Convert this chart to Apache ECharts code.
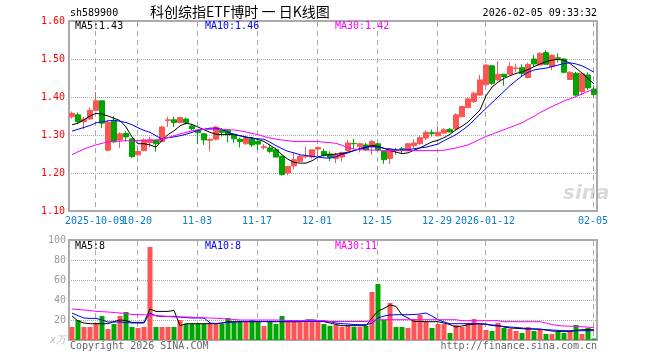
<!DOCTYPE html>
<html>
<head>
<meta charset="utf-8">
<script src="https://cdn.jsdelivr.net/npm/echarts@6/dist/echarts.min.js"></script>
<style>html,body{margin:0;padding:0;background:#fff}#c{width:660px;height:360px}</style>
</head>
<body>
<div id="c"></div>
<script>
const dates = [
 '2025-09-25','2025-09-26','2025-09-29','2025-09-30',
 '2025-10-09','2025-10-10','2025-10-13','2025-10-14','2025-10-15','2025-10-16','2025-10-17',
 '2025-10-20','2025-10-21','2025-10-22','2025-10-23','2025-10-24',
 '2025-10-27','2025-10-28','2025-10-29','2025-10-30','2025-10-31',
 '2025-11-03','2025-11-04','2025-11-05','2025-11-06','2025-11-07',
 '2025-11-10','2025-11-11','2025-11-12','2025-11-13','2025-11-14',
 '2025-11-17','2025-11-18','2025-11-19','2025-11-20','2025-11-21',
 '2025-11-24','2025-11-25','2025-11-26','2025-11-27','2025-11-28',
 '2025-12-01','2025-12-02','2025-12-03','2025-12-04','2025-12-05',
 '2025-12-08','2025-12-09','2025-12-10','2025-12-11','2025-12-12',
 '2025-12-15','2025-12-16','2025-12-17','2025-12-18','2025-12-19',
 '2025-12-22','2025-12-23','2025-12-24','2025-12-25','2025-12-26',
 '2025-12-29','2025-12-30','2025-12-31',
 '2026-01-05','2026-01-06','2026-01-07','2026-01-08','2026-01-09',
 '2026-01-12','2026-01-13','2026-01-14','2026-01-15','2026-01-16',
 '2026-01-19','2026-01-20','2026-01-21','2026-01-22','2026-01-23',
 '2026-01-26','2026-01-27','2026-01-28','2026-01-29','2026-01-30',
 '2026-02-02','2026-02-03','2026-02-04','2026-02-05'
];
const openP = [
 1.348,1.353,1.335,1.342,1.365,1.390,1.260,1.337,1.287,1.304,
 1.290,1.248,1.259,1.280,1.286,1.283,1.338,1.340,1.333,1.342,
 1.324,1.312,1.303,1.286,1.289,1.314,1.312,1.302,1.289,1.277,
 1.290,1.283,1.267,1.266,1.261,1.244,1.200,1.219,1.231,1.243,
 1.242,1.263,1.257,1.250,1.238,1.242,1.259,1.278,1.270,1.274,
 1.268,1.277,1.257,1.238,1.260,1.264,1.259,1.272,1.277,1.292,
 1.306,1.298,1.305,1.315,1.316,1.348,1.372,1.388,1.405,1.432,
 1.482,1.445,1.460,1.460,1.475,1.477,1.451,1.500,1.484,1.517,
 1.480,1.503,1.500,1.446,1.462,1.414,1.458,1.421
];
const closeP = [
 1.357,1.335,1.342,1.365,1.390,1.331,1.333,1.282,1.303,1.295,
 1.243,1.257,1.287,1.287,1.277,1.321,1.340,1.333,1.346,1.332,
 1.316,1.306,1.287,1.288,1.321,1.307,1.301,1.290,1.283,1.293,
 1.274,1.276,1.269,1.257,1.242,1.196,1.217,1.235,1.244,1.244,
 1.261,1.267,1.247,1.241,1.248,1.254,1.279,1.277,1.277,1.261,
 1.283,1.261,1.235,1.263,1.259,1.263,1.277,1.279,1.293,1.307,
 1.304,1.307,1.314,1.308,1.353,1.375,1.395,1.410,1.445,1.484,
 1.436,1.460,1.454,1.480,1.476,1.462,1.486,1.487,1.515,1.486,
 1.510,1.502,1.465,1.465,1.405,1.462,1.424,1.407
];
const lowP = [
 1.343,1.328,1.315,1.340,1.362,1.318,1.257,1.279,1.266,1.283,
 1.240,1.245,1.257,1.268,1.256,1.280,1.321,1.321,1.331,1.327,
 1.312,1.276,1.274,1.257,1.286,1.296,1.281,1.279,1.267,1.274,
 1.269,1.261,1.261,1.253,1.240,1.193,1.194,1.209,1.228,1.238,
 1.238,1.244,1.243,1.231,1.226,1.231,1.257,1.263,1.254,1.259,
 1.248,1.257,1.224,1.224,1.248,1.251,1.257,1.266,1.274,1.287,
 1.296,1.296,1.303,1.307,1.312,1.346,1.371,1.384,1.404,1.427,
 1.432,1.442,1.430,1.459,1.466,1.453,1.449,1.480,1.484,1.484,
 1.471,1.491,1.462,1.445,1.401,1.405,1.418,1.401
];
const highP = [
 1.362,1.359,1.348,1.372,1.413,1.390,1.340,1.350,1.307,1.310,
 1.291,1.273,1.291,1.295,1.287,1.324,1.348,1.348,1.347,1.346,
 1.329,1.314,1.305,1.293,1.324,1.318,1.315,1.305,1.293,1.296,
 1.293,1.292,1.276,1.274,1.266,1.246,1.219,1.253,1.248,1.270,
 1.262,1.270,1.264,1.257,1.253,1.256,1.287,1.290,1.280,1.279,
 1.287,1.278,1.257,1.266,1.266,1.268,1.279,1.289,1.298,1.312,
 1.314,1.322,1.318,1.318,1.357,1.377,1.397,1.414,1.458,1.486,
 1.484,1.494,1.461,1.491,1.488,1.486,1.490,1.510,1.517,1.523,
 1.512,1.515,1.502,1.468,1.466,1.466,1.465,1.427
];
const ma5 = [
 1.327,1.331,1.340,1.350,1.357,1.355,1.350,1.344,1.338,1.321,
 1.295,1.277,1.277,1.274,1.268,1.286,1.301,1.311,1.324,1.331,
 1.328,1.321,1.314,1.307,1.302,1.301,1.301,1.301,1.298,1.294,
 1.293,1.288,1.283,1.273,1.263,1.248,1.236,1.228,1.226,1.226,
 1.232,1.242,1.247,1.248,1.250,1.251,1.255,1.259,1.263,1.267,
 1.273,1.270,1.265,1.259,1.255,1.251,1.253,1.260,1.266,1.274,
 1.282,1.286,1.293,1.302,1.314,1.323,1.334,1.350,1.366,1.403,
 1.426,1.439,1.449,1.456,1.462,1.466,1.472,1.480,1.487,1.493,
 1.497,1.499,1.497,1.488,1.476,1.463,1.449,1.434
];
const ma10 = [
 1.310,1.315,1.320,1.325,1.332,1.335,1.337,1.339,1.336,1.333,
 1.327,1.319,1.312,1.307,1.298,1.289,1.293,1.295,1.298,1.302,
 1.307,1.312,1.315,1.318,1.318,1.315,1.307,1.302,1.298,1.295,
 1.291,1.290,1.289,1.281,1.272,1.264,1.257,1.253,1.248,1.246,
 1.244,1.242,1.240,1.239,1.243,1.249,1.253,1.259,1.265,1.269,
 1.270,1.268,1.265,1.263,1.261,1.261,1.261,1.264,1.266,1.268,
 1.272,1.276,1.285,1.293,1.301,1.312,1.324,1.339,1.355,1.370,
 1.385,1.400,1.415,1.430,1.443,1.455,1.465,1.471,1.474,1.476,
 1.480,1.484,1.488,1.490,1.487,1.482,1.474,1.465
];
const ma30 = [
 1.248,1.256,1.263,1.269,1.274,1.278,1.282,1.283,1.284,1.285,
 1.285,1.285,1.286,1.287,1.287,1.289,1.293,1.298,1.303,1.307,
 1.311,1.314,1.315,1.315,1.315,1.315,1.314,1.313,1.311,1.308,
 1.304,1.301,1.296,1.292,1.289,1.287,1.285,1.283,1.283,1.283,
 1.283,1.283,1.281,1.280,1.278,1.273,1.266,1.263,1.261,1.261,
 1.260,1.260,1.259,1.259,1.259,1.259,1.259,1.259,1.259,1.259,
 1.259,1.259,1.260,1.263,1.266,1.270,1.274,1.281,1.289,1.296,
 1.302,1.308,1.314,1.320,1.326,1.332,1.341,1.349,1.359,1.367,
 1.375,1.382,1.390,1.395,1.401,1.408,1.415,1.420
];
const volume = [
 13,20,13,13,17,24,11,16,24,28,
 13,12,13,93,13,13,13,13,20,16,
 16,16,16,17,17,16,22,18,18,18,
 20,18,14,18,16,24,18,18,18,20,
 20,18,16,14,15,13,14,13,13,14,
 48,56,20,37,13,13,12,21,25,18,
 12,16,16,7,15,13,17,21,16,10,
 9,17,12,11,9,7,13,9,10,6,
 6,8,7,9,15,6,12,1.5
];
const volMa5 = [
 24,19,17,16.3,16.3,16.3,16.3,18.5,20,19.5,
 17.6,17.6,17.6,31,28.6,28.6,28.6,29.6,14.3,16.3,
 16.3,16.3,16.3,16.3,16.3,17,18.3,18.3,18.3,18.3,
 18.3,18.3,18.3,18.3,18.3,18.3,18.3,18.3,18.3,20,
 20,19.6,18.3,17,15.5,14.3,14.3,14.3,14.3,14.3,
 22,29,31.5,35,33.6,25,22,18.6,18.5,18.3,
 18.3,18.3,17,15.3,13,14,15.3,15.8,16.3,15.5,
 15,14.6,13,12,11.7,11.3,11,11,11,10,
 9,8.6,8.6,8.6,9.5,10.3,10.3,10.3
];
const volMa10 = [
 27,24.3,22,21.6,21.6,20,18,18,18,17.5,
 17,17,17,27,24,23.6,23.6,23.6,23,22.5,
 22,22,22,17,16.5,17,17.5,18,18.5,18.5,
 18.5,18.5,18.5,18.5,18.5,18.5,18.5,18.5,18.5,18.5,
 18.5,18.5,18.5,18.3,17,16.3,16,15.5,15.3,15.3,
 16.9,22,24,25,25.3,25.3,25.3,25.5,26,27,
 24,20.3,18,16.3,16.3,16.3,16.3,16.3,16.3,16,
 14.5,14,13.5,13,12.5,12,11.3,11,10.5,10.3,
 10,9.6,9.3,9.3,9.3,9.3,9.3,9.3
];
const volMa30 = [
 31,30.5,30,29.5,28.6,28.3,28,27.5,27,26.5,
 25.5,25.3,25.3,25,24.5,24,23.5,23,23,23,
 22.8,22.5,22.2,22,21.8,21.3,21,20.5,20,20,
 20,20,20,20,20,20,19.5,19.5,19.5,19.5,
 19.5,19.5,19.5,18.5,18.5,18.5,18.5,18.5,18.5,18.5,
 19.5,20.3,20.3,20.3,20.3,20.3,20.3,20.3,20.3,20.3,
 20.3,20.3,20.3,20.3,20.3,19.3,19.3,19.3,19.3,19.3,
 19.3,19.3,18.3,18.3,18.3,18.3,18.3,18.3,18.3,17,
 15.5,14.5,14,13.8,13.6,13.3,12.8,12.3
];
const tickDates = ['2025-10-09','2025-10-20','2025-11-03','2025-11-17','2025-12-01','2025-12-15','2025-12-29','2026-01-12','2026-02-05'];
const tickLabels = ['2025-10-09','10-20','11-03','11-17','12-01','12-15','12-29','2026-01-12','02-05'];
const priceMin = 1.10, priceMax = 1.60, priceStep = 0.10;
const volMin = 0, volMax = 100, volStep = 20;
const legendPrice = ['MA5:1.43','MA10:1.46','MA30:1.42'];
const legendVol = ['MA5:8','MA10:8','MA30:11'];

const UP = '#ff5454', DOWN = '#00a600';
const MONO = '"DejaVu Sans Mono", monospace';
const GRIDC = '#aaaaaa';
const VLINEC = '#a8a8a8';

const chart = echarts.init(document.getElementById('c'), null, {renderer: 'canvas'});
const candleData = dates.map((d, i) => [openP[i], closeP[i], lowP[i], highP[i]]);
const tickIdx = tickDates.map(d => dates.indexOf(d));

const lineS = (name, data, color, xi, yi) => ({
  name, type: 'line', data, xAxisIndex: xi, yAxisIndex: yi,
  symbol: 'none', smooth: false, silent: true,
  lineStyle: {color, width: 1}, z: 5
});
const txt = (text, x, y, fill, align, font) => ({
  type: 'text', x, y, z: 100,
  style: {text, fill, align: align || 'left', verticalAlign: 'middle', font: font || ('10px ' + MONO)}
});

const GRIDS = [
  {left: 69, top: 21, width: 528, height: 190},
  {left: 69, top: 240, width: 528, height: 100}
];

chart.setOption({
  animation: false,
  backgroundColor: '#ffffff',
  grid: GRIDS.map(g => Object.assign({show: true, borderColor: GRIDC, borderWidth: 2, outerBoundsMode: 'none', containLabel: false}, g)),
  xAxis: [
    {type: 'category', data: dates, gridIndex: 0, boundaryGap: true,
     axisLine: {show: false}, axisTick: {show: false}, splitLine: {show: false}, axisLabel: {show: false}},
    {type: 'category', data: dates, gridIndex: 1, boundaryGap: true,
     axisLine: {show: false}, axisTick: {show: false}, splitLine: {show: false}, axisLabel: {show: false}}
  ],
  yAxis: [
    {type: 'value', gridIndex: 0, min: priceMin, max: priceMax, interval: priceStep,
     axisLine: {show: false}, axisTick: {show: false},
     axisLabel: {color: '#ff0000', fontSize: 10, fontFamily: MONO, margin: 4, formatter: v => v.toFixed(2)},
     splitLine: {show: true, lineStyle: {type: 'dotted', color: GRIDC, width: 1}}},
    {type: 'value', gridIndex: 1, min: volMin, max: volMax, interval: volStep,
     axisLine: {show: false}, axisTick: {show: false},
     axisLabel: {color: '#999999', fontSize: 10, fontFamily: MONO, margin: 3, formatter: v => v === 0 ? '' : String(v)},
     splitLine: {show: true, lineStyle: {type: 'dotted', color: GRIDC, width: 1}}}
  ],
  series: [
    {type: 'candlestick', name: 'K', data: candleData, xAxisIndex: 0, yAxisIndex: 0,
     barWidth: 5, silent: true, z: 3,
     itemStyle: {color: UP, color0: DOWN, borderColor: UP, borderColor0: DOWN, borderWidth: 1}},
    lineS('MA5', ma5, '#000000', 0, 0),
    lineS('MA10', ma10, '#0000ff', 0, 0),
    lineS('MA30', ma30, '#ff00ff', 0, 0),
    {type: 'bar', name: 'VOL', data: volume, xAxisIndex: 1, yAxisIndex: 1, barWidth: 5, silent: true, z: 3,
     itemStyle: {color: p => (closeP[p.dataIndex] >= openP[p.dataIndex] ? UP : DOWN)}},
    lineS('VMA5', volMa5, '#000000', 1, 1),
    lineS('VMA10', volMa10, '#0000ff', 1, 1),
    lineS('VMA30', volMa30, '#ff00ff', 1, 1)
  ]
});

// dashed vertical guides (as short filled dashes) and date labels, positioned through the axis scales
const extras = [];
tickIdx.forEach((ti, k) => {
  [0, 1].forEach((gi) => {
    const px = chart.convertToPixel({xAxisIndex: gi}, ti);
    const top = chart.convertToPixel({yAxisIndex: gi}, gi === 0 ? priceMax : volMax);
    const bot = chart.convertToPixel({yAxisIndex: gi}, gi === 0 ? priceMin : volMin);
    if (typeof px === 'number' && isFinite(px) && isFinite(top) && isFinite(bot)) {
      const x = Math.round(px) - 1;
      for (let y = top + 1; y < bot - 1; y += 9) {
        extras.push({type: 'rect', z: 1, silent: true,
          shape: {x: x, y: y, width: 1, height: Math.min(5, bot - 1 - y)},
          style: {fill: VLINEC}});
      }
      if (gi === 0) {
        extras.push(txt(tickLabels[k], px - 1, bot + 10, '#0a7ccc', 'center'));
      }
    }
  });
});

chart.setOption({
  graphic: extras.concat([
    txt('sh589900', 70, 13, '#000'),
    txt('科创综指ETF博时 一 日K线图', 150, 12, '#000', 'left', '14px "Noto Sans CJK SC"'),
    txt('2026-02-05 09:33:32', 597, 13, '#000', 'right'),
    txt(legendPrice[0], 75, 26, '#000'),
    txt(legendPrice[1], 205, 26, '#0000ff'),
    txt(legendPrice[2], 335, 26, '#ff00ff'),
    txt(legendVol[0], 75, 246, '#000'),
    txt(legendVol[1], 205, 246, '#0000ff'),
    txt(legendVol[2], 335, 246, '#ff00ff'),
    txt('x万', 50, 340, '#c0c0c0', 'left', 'italic 10px ' + MONO),
    txt('Copyright 2026 SINA.COM', 70, 346, '#666'),
    txt('http://finance.sina.com.cn', 597, 346, '#666', 'right'),
    txt('sina', 563, 194, 'rgba(160,160,160,0.4)', 'left', 'italic bold 20px "DejaVu Sans"')
  ])
});
</script>
</body>
</html>
